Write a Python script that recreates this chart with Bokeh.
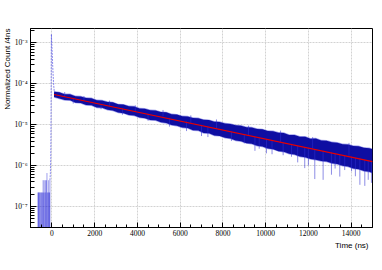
from bokeh.plotting import figure
from bokeh.models import (Range1d, FixedTicker, SingleIntervalTicker,
                          CustomJSTickFormatter, Title)
from bokeh.embed import file_html
from bokeh.resources import INLINE

# ---------------- data ----------------
# Decay part: dense noisy histogram, given as upper / lower envelope
band_t = [100, 350, 600, 850, 1100, 1350, 1600, 1850, 2100, 2350, 2600, 2850,
          3100, 3350, 3600, 3850, 4100, 4350, 4600, 4850, 5100, 5350, 5600,
          5850, 6100, 6350, 6600, 6850, 7100, 7350, 7600, 7850, 8100, 8350,
          8600, 8850, 9100, 9350, 9600, 9850, 10100, 10350, 10600, 10850,
          11100, 11350, 11600, 11850, 12100, 12350, 12600, 12850, 13100,
          13350, 13600, 13850, 14100, 14350, 14600, 14850, 15000]
band_hi = [6.46e-5, 6.20e-5, 5.56e-5, 5.59e-5, 5.01e-5, 4.93e-5, 4.52e-5,
           4.44e-5, 3.98e-5, 3.91e-5, 3.59e-5, 3.53e-5, 3.16e-5, 3.11e-5,
           2.85e-5, 2.80e-5, 2.51e-5, 2.47e-5, 2.26e-5, 2.23e-5, 2.04e-5,
           2.01e-5, 1.80e-5, 1.77e-5, 1.62e-5, 1.59e-5, 1.46e-5, 1.44e-5,
           1.32e-5, 1.30e-5, 1.19e-5, 1.17e-5, 1.07e-5, 1.05e-5, 9.66e-6,
           9.49e-6, 8.71e-6, 8.56e-6, 7.85e-6, 7.72e-6, 7.08e-6, 6.96e-6,
           6.38e-6, 6.27e-6, 5.62e-6, 5.65e-6, 5.07e-6, 5.10e-6, 4.57e-6,
           4.60e-6, 4.12e-6, 4.05e-6, 3.72e-6, 3.65e-6, 3.35e-6, 3.29e-6,
           3.02e-6, 2.97e-6, 2.72e-6, 2.68e-6, 2.52e-6]
band_lo = [4.79e-5, 4.39e-5, 4.03e-5, 3.96e-5, 3.47e-5, 3.41e-5, 3.05e-5,
           3.00e-5, 2.63e-5, 2.59e-5, 2.32e-5, 2.23e-5, 2.00e-5, 1.92e-5,
           1.72e-5, 1.69e-5, 1.51e-5, 1.45e-5, 1.30e-5, 1.28e-5, 1.15e-5,
           1.10e-5, 9.89e-6, 9.49e-6, 8.51e-6, 8.36e-6, 7.33e-6, 7.20e-6,
           6.31e-6, 6.20e-6, 5.43e-6, 5.34e-6, 4.79e-6, 4.60e-6, 4.12e-6,
           3.96e-6, 3.55e-6, 3.41e-6, 3.05e-6, 2.93e-6, 2.63e-6, 2.53e-6,
           2.26e-6, 2.18e-6, 1.95e-6, 1.87e-6, 1.68e-6, 1.61e-6, 1.45e-6,
           1.39e-6, 1.30e-6, 1.26e-6, 1.14e-6, 1.10e-6, 9.90e-7, 9.50e-7,
           8.50e-7, 8.20e-7, 7.40e-7, 7.10e-7, 6.60e-7]

# Individual noise spikes (time, from, to)
spike_t = [600, 1500, 2700, 3900, 5200, 6500, 7700, 9200, 10700, 12200, 13900,
           1000, 2300, 3300, 4500, 5500, 6300, 7000, 7300, 8400, 9000, 9500,
           9700, 10040, 10300, 10820, 11210, 11500, 11830, 12000, 12300,
           12690, 13080, 13250, 13470, 13700, 14020, 14200, 14410, 14640,
           14800, 14950]
spike_a = [4.8e-5, 3.9e-5, 2.9e-5, 2.1e-5, 1.6e-5, 1.1e-5, 8.0e-6, 5.5e-6,
           3.8e-6, 2.6e-6, 1.75e-6,
           4.3e-5, 3.1e-5, 2.5e-5, 1.85e-5, 1.45e-5, 1.2e-5, 9.9e-6, 9.0e-6,
           6.8e-6, 5.7e-6, 5.0e-6, 4.8e-6, 4.5e-6, 4.2e-6, 3.7e-6, 3.3e-6,
           3.1e-6, 2.85e-6, 2.7e-6, 2.5e-6, 2.3e-6, 2.1e-6, 2.0e-6, 1.85e-6,
           1.75e-6, 1.65e-6, 1.55e-6, 1.5e-6, 1.4e-6, 1.35e-6, 1.3e-6]
spike_b = [6.3e-5, 5.0e-5, 3.9e-5, 3.0e-5, 2.3e-5, 1.7e-5, 1.35e-5, 9.5e-6,
           7.2e-6, 5.0e-6, 3.6e-6,
           3.3e-5, 2.4e-5, 1.75e-5, 1.25e-5, 9.0e-6, 7.0e-6, 5.3e-6, 5.0e-6,
           4.0e-6, 3.5e-6, 2.3e-6, 2.6e-6, 2.0e-6, 1.9e-6, 1.8e-6, 1.65e-6,
           1.2e-6, 8.7e-7, 1.0e-6, 4.7e-7, 4.5e-7, 6.0e-7, 8.5e-7, 5.4e-7,
           7.8e-7, 7.3e-7, 5.5e-7, 3.4e-7, 3.2e-7, 4.5e-7, 3.8e-7]

# Pre-peak sparse bins (1-3 counts)
pre_t = [-650, -630, -610, -590, -560, -520, -500, -470, -440, -410, -390,
         -360, -330, -300, -280, -250, -230, -200, -170, -150, -130, -110, -90]
pre_v = [2.2e-7, 2.2e-7, 2.2e-7, 2.2e-7, 2.2e-7, 2.2e-7, 2.2e-7, 2.2e-7,
         2.2e-7, 4.4e-7, 2.2e-7, 4.4e-7, 2.2e-7, 4.4e-7, 2.2e-7, 4.4e-7,
         6.6e-7, 2.2e-7, 2.2e-7, 4.4e-7, 2.2e-7, 2.2e-7, 4.4e-7]

# Prompt peak
peak_t = [-90, -70, -55, -45, -38, -32, -27, -22, -15, 0, 20, 40, 60, 80, 100, 120]
peak_v = [4.4e-7, 6.6e-7, 1.5e-6, 5.0e-6, 2.5e-5, 1.5e-4, 8.0e-4, 1.65e-3,
          1.3e-3, 8.5e-4, 4.8e-4, 2.7e-4, 1.6e-4, 1.0e-4, 7.5e-5, 6.2e-5]

# Exponential fit (straight on log scale)
fit_t = [100, 15000]
fit_v = [5.5e-5, 1.26e-6]

# Axis ticks
x_major = 2000
y_ticks = [1e-7, 1e-6, 1e-5, 1e-4, 1e-3]
y_labels = ["10\u207b\u2077", "10\u207b\u2076", "10\u207b\u2075",
            "10\u207b\u2074", "10\u207b\u00b3"]
y_minor = [m * 10.0 ** e for e in range(-8, -2) for m in range(2, 10)]

# ---------------- figure ----------------
X0, X1 = -1000, 15000
Y0, Y1 = 3.07e-8, 2.26e-3
p = figure(width=380, height=268, y_axis_type="log",
           x_range=Range1d(X0, X1), y_range=Range1d(Y0, Y1),
           output_backend="svg", toolbar_location=None, title=None,
           min_border_left=29, min_border_right=8, min_border_top=28,
           min_border_bottom=41)
p.background_fill_color = "white"
p.border_fill_color = "white"
p.outline_line_color = "black"
p.outline_line_width = 1

p.xgrid.grid_line_color = "#d2d2d2"
p.ygrid.grid_line_color = "#d2d2d2"
p.xgrid.grid_line_dash = "2 1"
p.ygrid.grid_line_dash = "2 1"

p.xaxis.ticker = SingleIntervalTicker(interval=x_major, num_minor_ticks=4)
p.yaxis.ticker = FixedTicker(ticks=y_ticks, minor_ticks=y_minor)
p.yaxis.formatter = CustomJSTickFormatter(
    args=dict(yt=y_ticks, yl=y_labels),
    code="""
const i = yt.findIndex(t => Math.abs(Math.log10(t) - Math.log10(tick)) < 1e-6);
return i >= 0 ? yl[i] : '';
""")

for ax in (p.xaxis[0], p.yaxis[0]):
    ax.major_tick_out = 0
    ax.minor_tick_out = 0
    ax.axis_line_color = "black"
    ax.major_tick_line_color = "black"
    ax.minor_tick_line_color = "black"
    ax.major_label_text_font = "Liberation Serif"
    ax.major_label_text_font_size = "7.5px"
    ax.major_label_text_color = "black"
p.xaxis.major_tick_in = 5
p.xaxis.minor_tick_in = 3
p.xaxis.major_label_standoff = 2
p.yaxis.major_tick_in = 6
p.yaxis.minor_tick_in = 4
p.yaxis.major_label_standoff = 3

# pre-peak bins
p.segment(x0=pre_t, y0=[1e-9] * len(pre_t), x1=pre_t, y1=pre_v,
          line_color="#2a2ad8", line_alpha=0.45, line_width=1)
# decay band: thin light fringe + dense core
p.varea(x=band_t, y1=[v / 1.04 for v in band_lo], y2=[v * 1.04 for v in band_hi],
        fill_color="#3434d4", fill_alpha=0.45)
p.varea(x=band_t, y1=band_lo, y2=band_hi, fill_color="#06069e", fill_alpha=0.95)
p.segment(x0=spike_t, y0=spike_a, x1=spike_t, y1=spike_b,
          line_color="#3030d0", line_alpha=0.55, line_width=1)
# prompt peak
p.line(peak_t, peak_v, line_color="#6060e8", line_alpha=0.75, line_width=1,
       line_dash="2 1")
# fit
p.line(fit_t, fit_v, line_color="#e80000", line_width=1.2)

p.add_layout(Title(text="Time (ns)", align="right", offset=4, standoff=0,
                   text_font="Liberation Sans", text_font_size="8px",
                   text_font_style="normal", text_color="black"), "below")
p.add_layout(Title(text="Normalized Count /4ns", align="right", offset=0,
                   standoff=0, text_font="Liberation Sans",
                   text_font_size="8px", text_font_style="normal",
                   text_color="black"), "left")

open("out.html", "w").write(file_html(p, INLINE))
